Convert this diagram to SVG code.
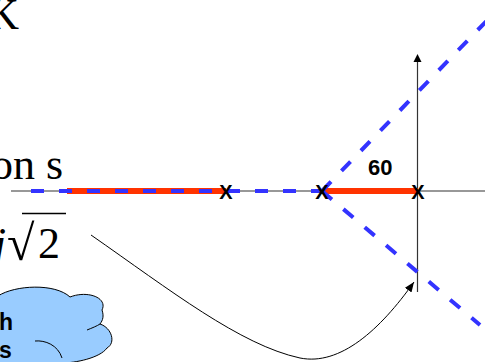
<svg xmlns="http://www.w3.org/2000/svg" width="485" height="362" viewBox="0 0 485 362">
<style>
.serif{font-family:"Liberation Serif","Times New Roman",serif;fill:#000}
.bold{font-family:"Liberation Sans",Arial,sans-serif;font-weight:bold;fill:#000}
.axis{stroke:#333;stroke-width:1.2;fill:none}
.red{stroke:#ff3300;stroke-width:6;fill:none}
.blue{stroke:#3333ff;stroke-width:4;fill:none;stroke-dasharray:13 15}
.conn{stroke:#000;stroke-width:1;fill:none}
</style>
<defs>
<marker id="ah" markerWidth="10" markerHeight="8" refX="10" refY="4" orient="auto" markerUnits="userSpaceOnUse">
<path d="M0,0 L10,4 L0,8 Z" fill="#000"/>
</marker>
</defs>
<rect width="485" height="362" fill="#fff"/>
<g id="texts">
<text class="serif" x="19" y="29" font-size="44" text-anchor="end">K</text>
<text class="serif" x="63" y="179" font-size="44" text-anchor="end">on s</text>
<text class="serif" x="6" y="258" font-size="44" font-style="italic" text-anchor="end">j</text>
<text class="serif" x="7" y="260" font-size="50">√</text>
<line x1="22" y1="213.5" x2="66" y2="213.5" stroke="#000" stroke-width="1.6"/>
<text class="serif" x="38" y="258" font-size="44">2</text>
</g>
<g id="cloud">
<path d="M-2,296 C15,285 55,283 70,297 C88,290 108,298 102,310 C104,316 103,320 100,324 C112,328 116,343 107,348 C100,358 75,363 62,363 L-2,363 Z" fill="#99ccff" stroke="#000" stroke-width="1"/>
<path d="M87,330 C92,328 97,326 100,324" fill="none" stroke="#000" stroke-width="1"/>
<path d="M35,341 C45,340 58,345 62,358" fill="none" stroke="#000" stroke-width="1"/>
<text class="bold" x="-1" y="330" font-size="23">h</text>
<text class="bold" x="-1" y="358" font-size="23">s</text>
</g>
<g id="axes">
<line class="axis" x1="11" y1="191" x2="485" y2="191"/>
<line class="axis" x1="417.5" y1="292" x2="417.5" y2="62"/>
<path d="M413.5,62 L417.5,54 L421.5,62 Z" fill="#000"/>
</g>
<g id="locus">
<line class="red" x1="67" y1="191" x2="226" y2="191"/>
<line class="red" x1="322" y1="191" x2="418" y2="191"/>
<line class="blue" x1="31" y1="191" x2="322" y2="191"/>
<line class="blue" x1="322" y1="191" x2="500" y2="7"/>
<line class="blue" x1="322" y1="191" x2="480" y2="325"/>
</g>
<g id="poles">
<text class="bold" x="226" y="198.5" font-size="20" text-anchor="middle">X</text>
<text class="bold" x="322" y="198.5" font-size="20" text-anchor="middle">X</text>
<text class="bold" x="418" y="198.5" font-size="20" text-anchor="middle">X</text>
<text class="bold" x="368" y="175" font-size="22">60</text>
</g>
<g id="connectors">
<path class="conn" d="M91,235 C170,290 240,345 300,358 C340,366 380,330 414,282" marker-end="url(#ah)"/>
</g>
</svg>
